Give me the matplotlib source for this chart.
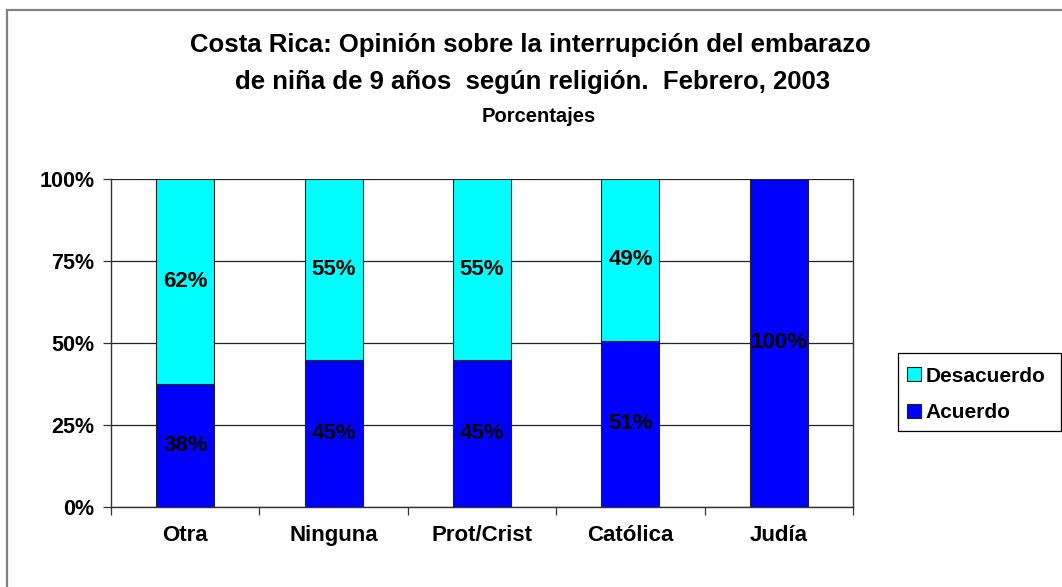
import matplotlib
matplotlib.use("Agg")
import matplotlib.pyplot as plt
from matplotlib.patches import Rectangle

categories = ["Otra", "Ninguna", "Prot/Crist", "Católica", "Judía"]
acuerdo = [37.6, 44.8, 44.9, 50.7, 100.0]
desacuerdo = [62.4, 55.2, 55.1, 49.3, 0.0]
yticks = [0, 25, 50, 75, 100]
ytick_labels = ["0%", "25%", "50%", "75%", "100%"]

plt.rcParams['font.family'] = ['Liberation Sans', 'DejaVu Sans']

W, H = 1062, 587
fig = plt.figure(figsize=(W / 100, H / 100), dpi=100)
fig.patch.set_facecolor("white")

# outer chart border (only top and left visible)
fig.patches.append(Rectangle((7 / W, -0.1), 1.2, 1 - 10 / H + 0.1, transform=fig.transFigure,
                             fill=False, edgecolor="#808080", linewidth=1.6, zorder=0))

ax = fig.add_axes([111 / W, 1 - 507 / H, (853 - 111) / W, (507 - 179) / H])
x = list(range(len(categories)))
bw = 0.39
b1 = ax.bar(x, acuerdo, width=bw, color="#0000FF", edgecolor="#222222", linewidth=0.8,
            label="Acuerdo", zorder=3)
b2 = ax.bar(x, desacuerdo, width=bw, bottom=acuerdo, color="#00FFFF", edgecolor="#222222",
            linewidth=0.8, label="Desacuerdo", zorder=3)

for i in x:
    if acuerdo[i] > 0:
        ax.text(i, acuerdo[i] / 2, f"{round(acuerdo[i]):d}%", ha="center", va="center",
                fontsize=16, fontweight="bold", color="black", zorder=4)
    if desacuerdo[i] > 0:
        ax.text(i, acuerdo[i] + desacuerdo[i] / 2, f"{round(desacuerdo[i]):d}%", ha="center",
                va="center", fontsize=16, fontweight="bold", color="black", zorder=4)

ax.set_xlim(-0.5, len(categories) - 0.5)
ax.set_ylim(0, 100)
ax.set_yticks(yticks)
ax.set_yticklabels(ytick_labels, fontsize=15.5, fontweight="bold")
ax.yaxis.grid(True, color="#222222", linewidth=0.9, zorder=0)
ax.set_axisbelow(True)

# x ticks at category boundaries, labels centered at categories
ax.set_xticks([i - 0.5 for i in range(len(categories) + 1)])
ax.set_xticklabels([])
ax.set_xticks(x, minor=True)
ax.set_xticklabels(categories, minor=True, fontsize=16, fontweight="bold")
ax.tick_params(axis="x", which="minor", length=0, pad=13)
ax.tick_params(axis="x", which="major", length=6, width=0.9, color="#333333", direction="out")
ax.tick_params(axis="y", length=6, width=0.9, color="#333333", pad=6)

for s in ["left", "bottom", "right"]:
    ax.spines[s].set_color("#333333")
    ax.spines[s].set_linewidth(1.0)
ax.spines["top"].set_visible(False)

# legend
fig.patches.append(Rectangle((898 / W, 1 - 431 / H), (1061 - 898) / W, 78 / H,
                             transform=fig.transFigure, fill=False, edgecolor="black",
                             linewidth=0.9, zorder=5))
handles = [b2, b1]
leg = fig.legend(handles, ["Desacuerdo", "Acuerdo"], loc="upper left",
                 bbox_to_anchor=(894 / W, 1 - 354 / H), prop={"size": 15, "weight": "bold"},
                 frameon=False, handlelength=0.68, handleheight=0.68, handletextpad=0.25,
                 labelspacing=0.85, borderpad=0.6, borderaxespad=0)

fig.text(530 / W, 1 - 45 / H, "Costa Rica: Opinión sobre la interrupción del embarazo",
         ha="center", va="center", fontsize=18.5, fontweight="bold")
fig.text(533 / W, 1 - 82 / H, "de niña de 9 años  según religión.  Febrero, 2003",
         ha="center", va="center", fontsize=18.5, fontweight="bold")
fig.text(539 / W, 1 - 117 / H, "Porcentajes", ha="center", va="center",
         fontsize=14.5, fontweight="bold")

fig.savefig("out.png", dpi=100)
